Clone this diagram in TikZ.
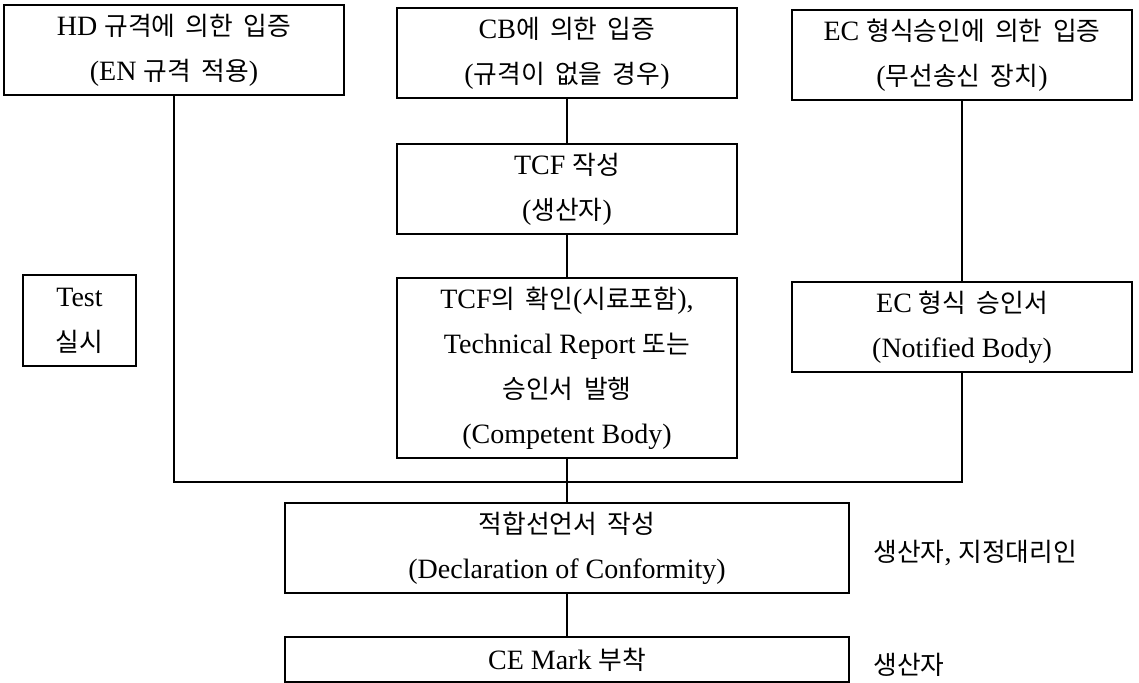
\documentclass[tikz,border=0pt]{standalone}
\usepackage{fontspec}
\setmainfont{Liberation Serif}
\newfontfamily\kr[Scale=0.92, WordSpace=1.8]{Noto Sans CJK KR}
\usepackage{tikz}
\usetikzlibrary{positioning}
\tikzstyle{box} = [rectangle, draw, line width=0.9pt, inner sep=0pt, align=center, font=\fontsize{14}{22.5}\selectfont]
\tikzstyle{b1} = [box, minimum width=170pt, minimum height=45pt]
\tikzstyle{b2} = [box, minimum width=282pt, minimum height=45pt]
\tikzstyle{note} = [anchor=west, inner sep=0pt, font=\fontsize{14}{22.5}\selectfont]
\tikzstyle{wire} = [line width=0.6pt]

\begin{document}
\begin{tikzpicture}[x=0.5pt, y=-0.5pt]
\useasboundingbox (0,0) rectangle (1139,683);
% top row
\node(A)[b1] at (174,50) {HD {\kr 규격에 의한 입증}\\({EN} {\kr 규격 적용})};
\node(B)[b1] at (567,53) {CB{\kr 에 의한 입증}\\({\kr 규격이 없을 경우})};
\node(C)[b1] at (962,55) {EC {\kr 형식승인에 의한 입증}\\({\kr 무선송신 장치})};
% middle
\node(D)[b1] at (567,189) {TCF {\kr 작성}\\({\kr 생산자})};
\node(E)[b1, minimum height=90pt] at (567,368) {TCF{\kr 의 확인}({\kr 시료포함}),\\Technical Report {\kr 또는}\\{\kr 승인서 발행}\\(Competent Body)};
\node(F)[box, minimum width=56.5pt, minimum height=45.5pt] at (79.5,320.5) {Test\\{\kr 실시}};
\node(G)[b1] at (962,327) {EC {\kr 형식 승인서}\\(Notified Body)};
% bottom
\node(H)[b2] at (567,548) {{\kr 적합선언서 작성}\\(Declaration of Conformity)};
\node(I)[b2, minimum height=22.5pt] at (567,659.5) {CE Mark {\kr 부착}};
\node(J)[note] at (873,553) {{\kr 생산자}, {\kr 지정대리인}};
\node(K)[note] at (873,665) {{\kr 생산자}};
\coordinate(L) at (174,482);
\coordinate(R) at (962,482);
\draw[wire](A.south)--(L)--(R)--(G.south);
\draw[wire](B.south)--(D.north);
\draw[wire](D.south)--(E.north);
\draw[wire](E.south)--(H.north);
\draw[wire](C.south)--(G.north);
\draw[wire](H.south)--(I.north);
\end{tikzpicture}
\end{document}
